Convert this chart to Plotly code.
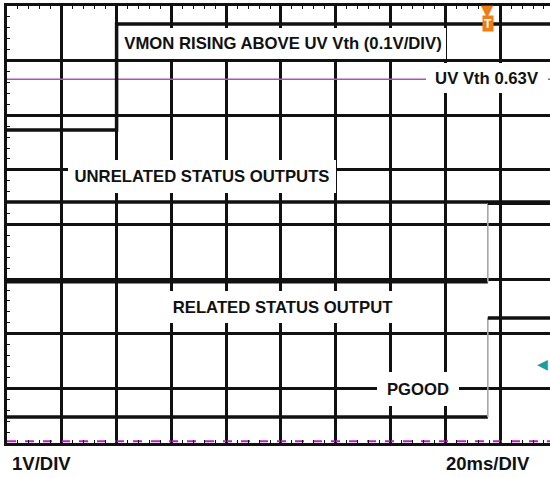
import plotly.graph_objects as go

# ---- scope settings (time in ms, vertical in graticule divisions from bottom) ----
ms_per_div = 20
x_end = 198.2          # right edge of the captured screen (ms)
n_ydiv = 8

# ---- waveform data ----
vmon_t = [0, 40.0, 40.0, x_end]
vmon_v = [5.73, 5.73, 7.67, 7.67]

uvth_t = [0, x_end]
uvth_v = [6.66, 6.66]

unrel_t = [0, x_end]
unrel_v = [4.41, 4.41]

t_edge = 175.5
rel_low_t = [0, t_edge]
rel_low_v = [2.95, 2.95]
rel_high_t = [t_edge, x_end]
rel_high_v = [4.39, 4.39]

pg_low_t = [0, t_edge]
pg_low_v = [0.476, 0.476]
pg_high_t = [t_edge, x_end]
pg_high_v = [2.29, 2.29]

gnd_t = [0, x_end]
gnd_v = [0.03, 0.03]

BLACK = "#111111"
PURPLE = "#b050b0"
MAGENTA = "#c020c0"
GRAY = "#a8a8a8"
ORANGE = "#f07c14"
TEAL = "#1a9e9e"

fig = go.Figure()

def seg(x, y, color=BLACK, width=3.5, dash=None):
    fig.add_trace(go.Scatter(x=x, y=y, mode="lines",
                             line=dict(color=color, width=width, dash=dash),
                             hoverinfo="skip", showlegend=False))

seg(gnd_t, gnd_v, MAGENTA, 2, "dash")
seg(uvth_t, uvth_v, PURPLE, 1.6)
seg(vmon_t, vmon_v)
seg(unrel_t, unrel_v)
seg(rel_low_t, rel_low_v)
seg([t_edge, t_edge], [rel_low_v[0], rel_high_v[0]], GRAY, 1.6)
seg(rel_high_t, rel_high_v)
seg(pg_low_t, pg_low_v)
seg([t_edge, t_edge], [pg_low_v[0], pg_high_v[0]], GRAY, 1.6)
seg(pg_high_t, pg_high_v)

FONT = "Liberation Sans, Arial, sans-serif"

def label(text, x, y, w, h):
    fig.add_annotation(x=x, y=y, xref="x", yref="y", text="<b>%s</b>" % text,
                       showarrow=False, bgcolor="white", width=w, height=h,
                       borderpad=0, borderwidth=0,
                       font=dict(family=FONT, size=16.7, color=BLACK))

label("VMON RISING ABOVE UV Vth (0.1V/DIV)", 100.8, 7.313, 326, 31)
label("UV Vth 0.63V", 175.25, 6.682, 122, 30)
label("UNRELATED STATUS OUTPUTS", 71.2, 4.879, 268, 33)
label("RELATED STATUS OUTPUT", 100.9, 2.49, 240, 32)
label("PGOOD", 150.0, 0.9886, 82, 34)

# scale labels under the screen
fig.add_annotation(x=0.0055, y=-0.0458, xref="paper", yref="paper", xanchor="left",
                   yanchor="middle", text="<b>1V/DIV</b>", showarrow=False,
                   font=dict(family=FONT, size=18.5, color=BLACK))
fig.add_annotation(x=0.8048, y=-0.0458, xref="paper", yref="paper", xanchor="left",
                   yanchor="middle", text="<b>20ms/DIV</b>", showarrow=False,
                   font=dict(family=FONT, size=18.5, color=BLACK))

# trigger marker (tag, then position triangle on the top border)
fig.add_annotation(x=t_edge, y=7.68, xref="x", yref="y",
                   text="<b>T</b>", showarrow=False, bgcolor=ORANGE,
                   width=10, height=15, borderpad=0,
                   font=dict(family=FONT, size=12, color="white"))
fig.add_annotation(x=t_edge, y=7.92, xref="x", yref="y", yanchor="middle",
                   text="▼", showarrow=False,
                   font=dict(family="DejaVu Sans", size=16, color=ORANGE))
# channel offset arrow
fig.add_annotation(x=1.0, y=1.446, xref="paper", yref="y", xanchor="right",
                   text="◀", showarrow=False,
                   font=dict(family="DejaVu Sans", size=14, color=TEAL))

axis_common = dict(showgrid=True, gridcolor=BLACK, gridwidth=3,
                   showline=True, linecolor=BLACK, linewidth=3,
                   ticks="inside", ticklen=4, tickcolor=BLACK, tickwidth=1,
                   showticklabels=False, zeroline=False, tick0=0)

fig.update_layout(
    width=550, height=478,
    margin=dict(l=7, r=0, t=6, b=35),
    paper_bgcolor="white", plot_bgcolor="white",
    xaxis=dict(range=[0, x_end], dtick=ms_per_div, mirror="allticks",
               minor=dict(ticks="inside", ticklen=3, dtick=ms_per_div / 5,
                          tickcolor=BLACK, tickwidth=1, showgrid=False),
               **axis_common),
    yaxis=dict(range=[0, n_ydiv], dtick=1, mirror=False,
               minor=dict(ticks="inside", ticklen=3, dtick=0.2,
                          tickcolor=BLACK, tickwidth=1, showgrid=False),
               **axis_common),
)

fig.write_html("out.html", config={"displayModeBar": False},
               post_script="document.body.style.margin='0px';")
